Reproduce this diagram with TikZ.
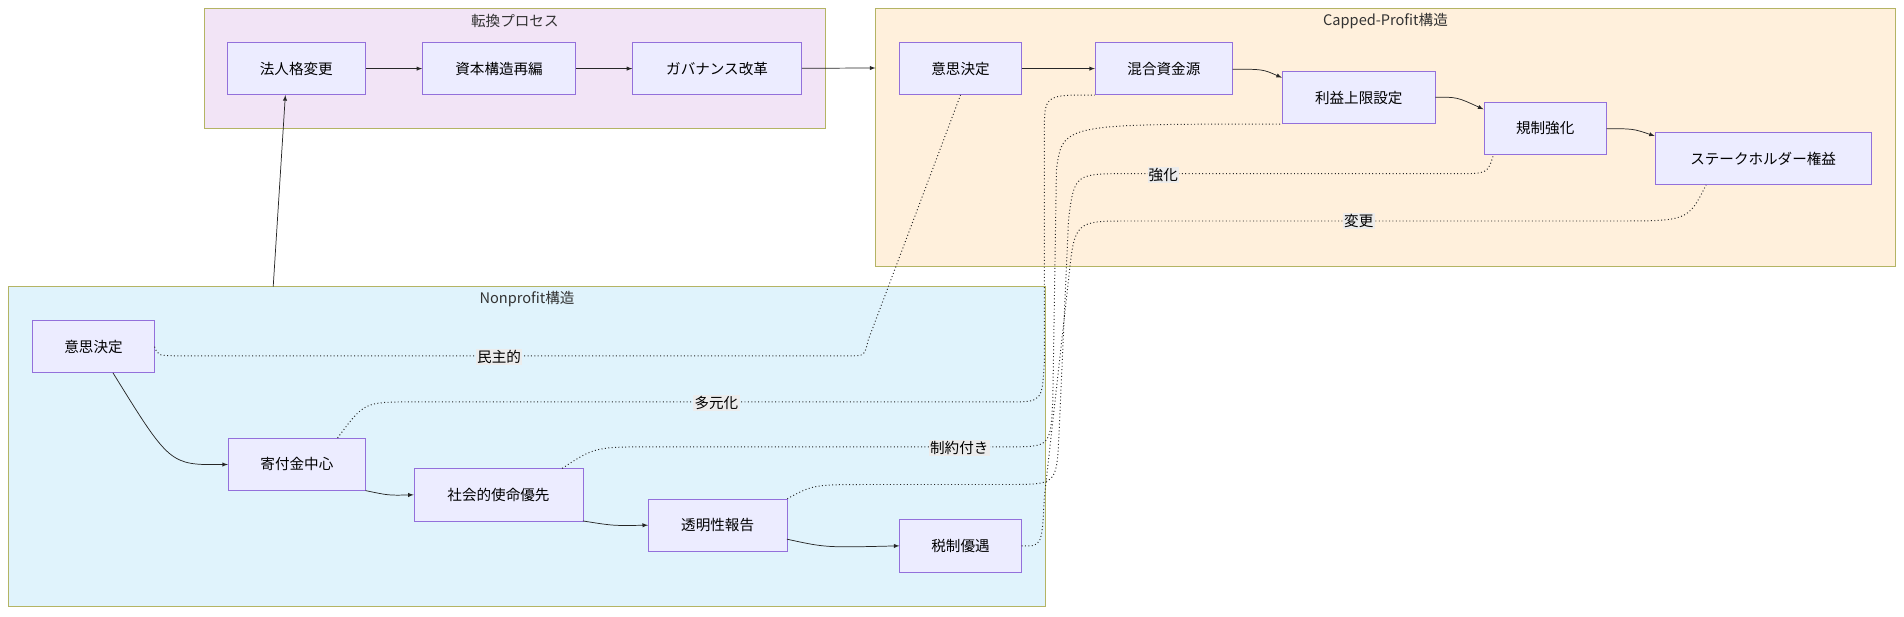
\documentclass[tikz,border=0pt]{standalone}
\usepackage{fontspec}
\setmainfont{Liberation Serif}
\newfontfamily\cjk{Noto Sans CJK JP}
\definecolor{nb}{RGB}{147,112,219}
\definecolor{nf}{RGB}{236,236,255}
\definecolor{cb}{RGB}{180,180,100}
\definecolor{c1}{RGB}{242,228,246}
\definecolor{c2}{RGB}{255,240,220}
\definecolor{c3}{RGB}{224,243,252}
\begin{document}
\begin{tikzpicture}[x=1pt,y=-1pt,
  cl/.style={draw=cb,line width=0.7pt},
  nd/.style={draw=nb,fill=nf,line width=0.6pt,font=\cjk\fontsize{12}{14}\selectfont,inner sep=0pt},
  ttl/.style={font=\cjk\fontsize{12}{14}\selectfont,text=black!80},
  ar/.style={-latex,line width=0.6pt,black!85},
  dt/.style={dotted,line width=0.8pt,black!85},
  lb/.style={fill=gray!15,font=\cjk\fontsize{12}{14}\selectfont,inner sep=1pt}]
\useasboundingbox (0,0) rectangle (1568,508);
% clusters
\fill[fill=c1,cl] (168,7) rectangle (680,106);
\node[ttl] (t1) at (424,17) {転換プロセス};
\fill[fill=c2,cl] (721,7) rectangle (1561,219);
\node[ttl] (t2) at (1141,17) {Capped-Profit構造};
\fill[fill=c3,cl] (7,236) rectangle (861,499);
\node[ttl] (t3) at (434,246) {Nonprofit構造};
\coordinate (npTop) at (225,236);
\coordinate (cpL) at (721,56);
% nodes
\newcommand\bx[5]{\node[nd,minimum width=#4-#2 pt,minimum height=#5-#3 pt] (#1) at ({(#2+#4)/2},{(#3+#5)/2})}
\bx{a}{187}{35}{301}{78} {法人格変更};
\bx{b}{348}{35}{474}{78} {資本構造再編};
\bx{c}{521}{35}{660}{78} {ガバナンス改革};
\bx{d}{741}{35}{841}{78} {意思決定};
\bx{e}{902}{35}{1015}{78} {混合資金源};
\bx{f}{1056}{59}{1182}{102} {利益上限設定};
\bx{g}{1222}{84}{1323}{127} {規制強化};
\bx{h}{1363}{109}{1541}{152} {ステークホルダー権益};
\bx{p}{27}{264}{127}{307} {意思決定};
\bx{q}{188}{361}{301}{404} {寄付金中心};
\bx{r}{341}{386}{480}{429} {社会的使命優先};
\bx{s}{534}{411}{648}{454} {透明性報告};
\bx{u}{741}{428}{841}{471} {税制優遇};
% solid
\draw[ar] (a) -- (b);
\draw[ar] (b) -- (c);
\draw[ar] (c) -- (cpL);
\draw[ar] (npTop) -- (a.south-|235,0);
\draw[ar] (d) -- (e);
\draw[ar] (1015,57) .. controls (1040,57) .. (f.west|-0,64);
\draw[ar] (1182,80) .. controls (1200,80) .. (g.west|-0,90);
\draw[ar] (1323,106) .. controls (1345,106) .. (h.west|-0,112);
\draw[ar] (93,307) .. controls (140,383) .. (q.west);
\draw[ar] (301,404) .. controls (320,408) .. (r.west);
\draw[ar] (480,429) .. controls (505,433) .. (s.west);
\draw[ar] (648,444) .. controls (680,451) .. (u.west);
% dotted
\draw[dt] (p.east) .. controls (130,293) .. (150,293) -- (700,293) .. controls (712,293) .. (715,280) -- (d.south);
\node[lb] (l1) at (411,294) {民主的};
\draw[dt] (q.north-|278,0) .. controls (300,331) .. (340,331) -- (830,331) .. controls (858,331) .. (860,300) -- (860,110) .. controls (860,78) .. (e.south west);
\node[lb] (l2) at (590,332) {多元化};
\draw[dt] (r.north-|463,0) .. controls (490,368) .. (540,368) -- (830,368) .. controls (865,368) .. (867,330) -- (870,140) .. controls (875,102) .. (f.south west);
\node[lb] (l3) at (790,369) {制約付き};
\draw[dt] (s.north east) .. controls (670,399) .. (720,399) -- (830,399) .. controls (870,399) .. (872,360) -- (880,180) .. controls (885,143) .. (930,143) -- (1200,143) .. controls (1225,143) .. (g.south-|1230,0);
\node[lb] (l4) at (958,144) {強化};
\draw[dt] (u.east) .. controls (858,450) .. (860,410) -- (880,230) .. controls (885,182) .. (930,182) -- (1330,182) .. controls (1390,182) .. (h.south-|1405,0);
\node[lb] (l5) at (1119,182) {変更};
\end{tikzpicture}
\end{document}
